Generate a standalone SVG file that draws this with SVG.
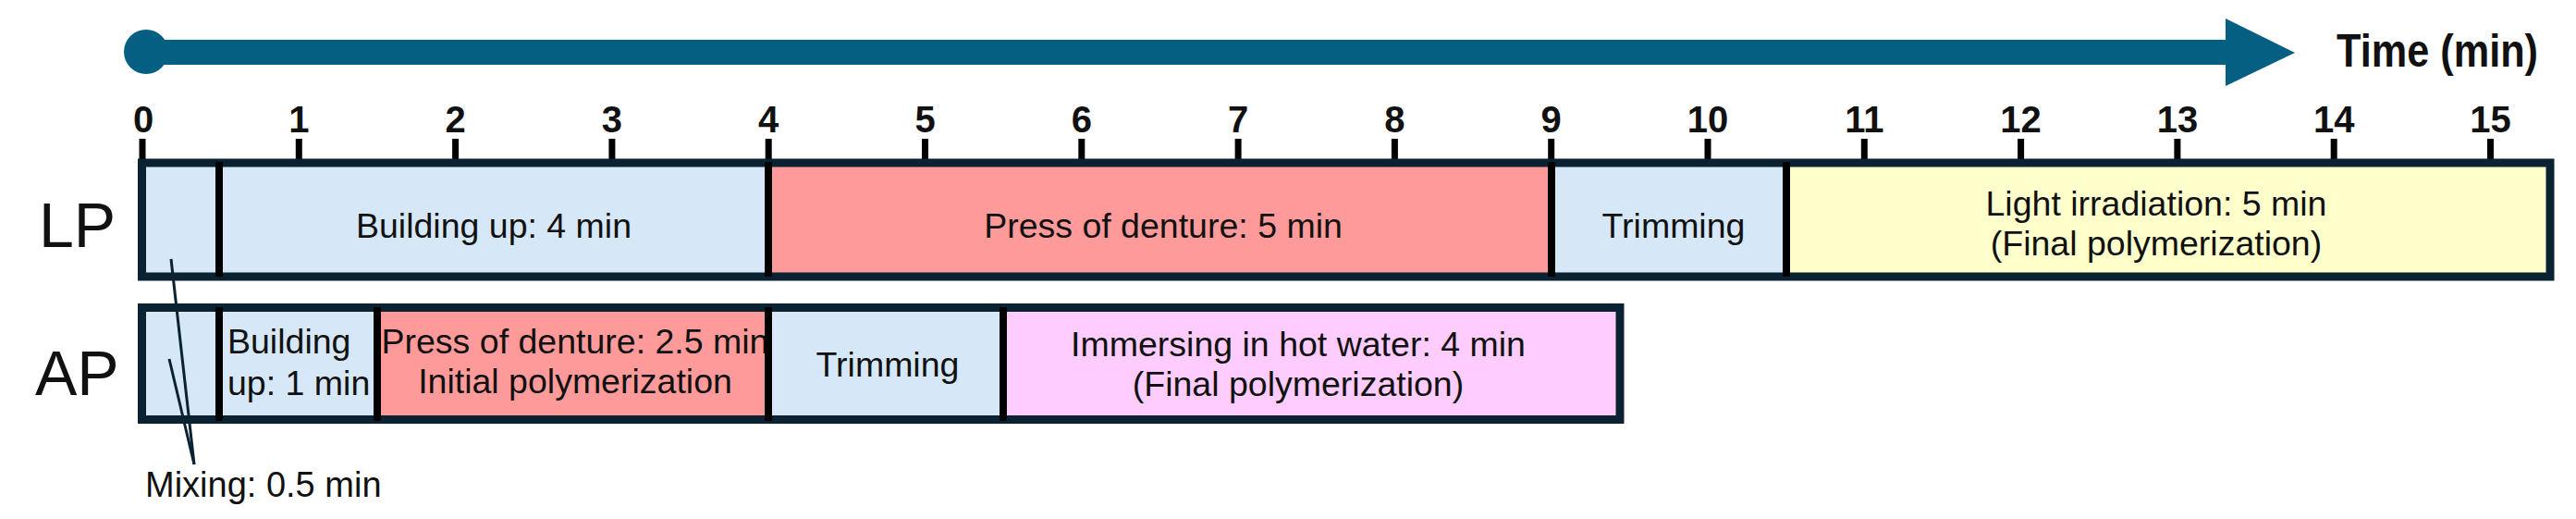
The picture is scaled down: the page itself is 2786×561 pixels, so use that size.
<svg xmlns="http://www.w3.org/2000/svg" width="2786" height="561" viewBox="0 0 2786 561">
<style>
text{font-family:"Liberation Sans",Arial,sans-serif;fill:#111}
.tl{font-size:40px;font-weight:bold;text-anchor:middle}
.lb{font-size:37.5px;text-anchor:middle}
.ls{font-size:37.5px;text-anchor:start}
.row{font-size:68px}
.tick{stroke:#000;stroke-width:7}
.div{stroke:#000;stroke-width:8}
.frame{fill:none;stroke:#0b2233;stroke-width:9}
.blue{fill:#d6e8f7}.red{fill:#fe9a9a}.yel{fill:#ffffcc}.pink{fill:#ffccff}
.lead{stroke:#0b2233;stroke-width:3;fill:none}
</style>
<rect width="2786" height="561" fill="#fff"/>
<g id="time-axis">
<circle cx="158" cy="56" r="24" fill="#055f82"/>
<rect x="158" y="43" width="2252" height="27" fill="#055f82"/>
<polygon points="2407,20 2482,57 2407,93" fill="#055f82"/>
<text x="2527" y="72" font-size="50" font-weight="bold" textLength="218" lengthAdjust="spacingAndGlyphs">Time (min)</text>
</g>
<g id="ticks">
<g class="tick">
<line x1="154" y1="150" x2="154" y2="176"/><line x1="323.3" y1="150" x2="323.3" y2="176"/><line x1="492.6" y1="150" x2="492.6" y2="176"/><line x1="661.9" y1="150" x2="661.9" y2="176"/><line x1="831.2" y1="150" x2="831.2" y2="176"/><line x1="1000.5" y1="150" x2="1000.5" y2="176"/><line x1="1169.8" y1="150" x2="1169.8" y2="176"/><line x1="1339.1" y1="150" x2="1339.1" y2="176"/><line x1="1508.4" y1="150" x2="1508.4" y2="176"/><line x1="1677.7" y1="150" x2="1677.7" y2="176"/><line x1="1847" y1="150" x2="1847" y2="176"/><line x1="2016.3" y1="150" x2="2016.3" y2="176"/><line x1="2185.6" y1="150" x2="2185.6" y2="176"/><line x1="2354.9" y1="150" x2="2354.9" y2="176"/><line x1="2524.2" y1="150" x2="2524.2" y2="176"/><line x1="2693.5" y1="150" x2="2693.5" y2="176"/>
</g>
<text class="tl" x="155" y="143">0</text><text class="tl" x="323.3" y="143">1</text><text class="tl" x="492.6" y="143">2</text><text class="tl" x="661.9" y="143">3</text><text class="tl" x="831.2" y="143">4</text><text class="tl" x="1000.5" y="143">5</text><text class="tl" x="1169.8" y="143">6</text><text class="tl" x="1339.1" y="143">7</text><text class="tl" x="1508.4" y="143">8</text><text class="tl" x="1677.7" y="143">9</text><text class="tl" x="1847" y="143">10</text><text class="tl" x="2016.3" y="143">11</text><text class="tl" x="2185.6" y="143">12</text><text class="tl" x="2354.9" y="143">13</text><text class="tl" x="2524.2" y="143">14</text><text class="tl" x="2693.5" y="143">15</text>
</g>
<text class="row" x="42" y="267">LP</text>
<text class="row" x="38" y="427">AP</text>
<g id="lp-mixing"><rect class="blue" x="153.5" y="176" width="83.5" height="123"/></g>
<g id="lp-building"><rect class="blue" x="237" y="176" width="594" height="123"/><text class="lb" x="534" y="257">Building up: 4 min</text></g>
<g id="lp-press"><rect class="red" x="831" y="176" width="847" height="123"/><text class="lb" x="1258" y="257">Press of denture: 5 min</text></g>
<g id="lp-trimming"><rect class="blue" x="1678" y="176" width="254" height="123"/><text class="lb" x="1810" y="257">Trimming</text></g>
<g id="lp-light"><rect class="yel" x="1932" y="176" width="826" height="123"/><text class="lb" x="2332" y="233">Light irradiation: 5 min</text><text class="lb" x="2332" y="276">(Final polymerization)</text></g>
<g id="ap-mixing"><rect class="blue" x="153.5" y="332.5" width="83.5" height="121"/></g>
<g id="ap-building"><rect class="blue" x="237" y="332.5" width="171" height="121"/><text class="ls" x="246" y="382">Building</text><text class="ls" x="246" y="427">up: 1 min</text></g>
<g id="ap-press"><rect class="red" x="408" y="332.5" width="423" height="121"/><text class="lb" x="622" y="382">Press of denture: 2.5 min</text><text class="lb" x="622" y="425">Initial polymerization</text></g>
<g id="ap-trimming"><rect class="blue" x="831" y="332.5" width="254" height="121"/><text class="lb" x="960" y="407">Trimming</text></g>
<g id="ap-immersing"><rect class="pink" x="1085" y="332.5" width="667" height="121"/><text class="lb" x="1404" y="385">Immersing in hot water: 4 min</text><text class="lb" x="1404" y="428">(Final polymerization)</text></g>
<g id="frames">
<rect class="frame" x="153.5" y="176" width="2604.5" height="123"/>
<rect class="frame" x="153.5" y="332.5" width="1598.5" height="121"/>
<g class="div">
<line x1="237" y1="175" x2="237" y2="299"/><line x1="831" y1="175" x2="831" y2="299"/><line x1="1678" y1="175" x2="1678" y2="299"/><line x1="1932" y1="175" x2="1932" y2="299"/>
<line x1="237" y1="332" x2="237" y2="455"/><line x1="408" y1="332" x2="408" y2="455"/><line x1="831" y1="332" x2="831" y2="455"/><line x1="1085" y1="332" x2="1085" y2="455"/>
</g>
</g>
<g id="connectors">
<line class="lead" x1="185" y1="280" x2="210" y2="502"/>
<line class="lead" x1="183" y1="388" x2="210" y2="502"/>
</g>
<g id="mixing-label"><text x="157" y="537" font-size="38">Mixing: 0.5 min</text></g>
</svg>
